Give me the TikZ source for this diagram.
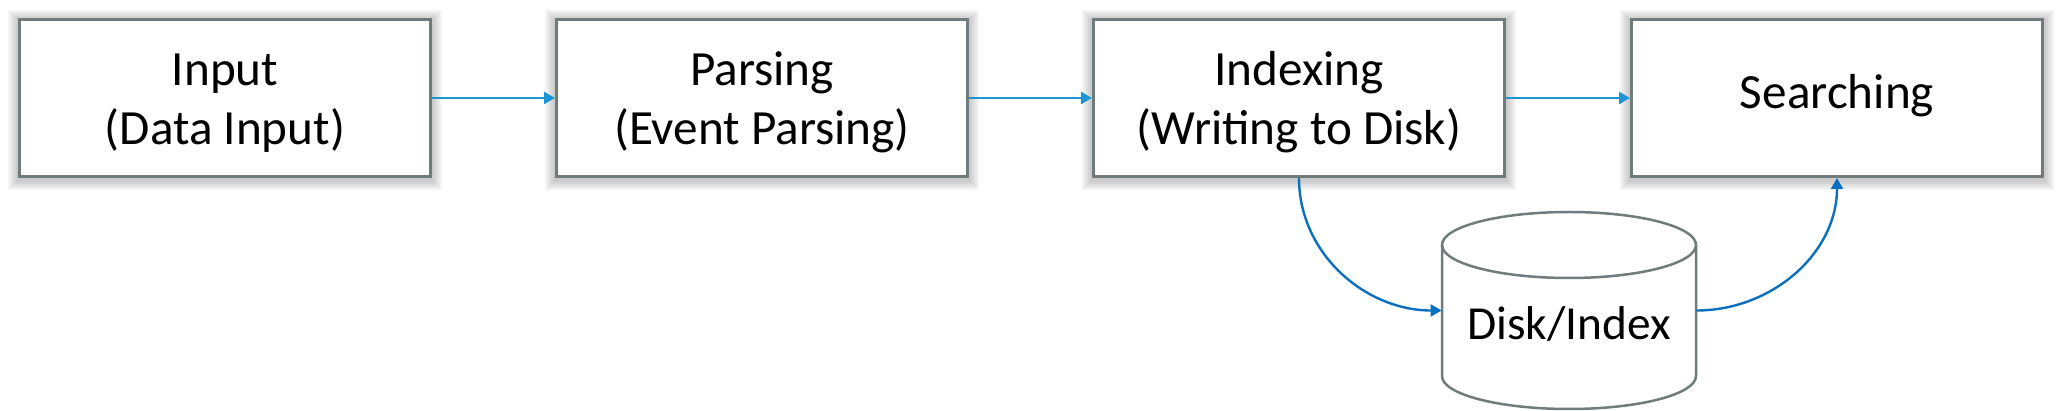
\documentclass[tikz,border=0pt]{standalone}
\usepackage{fontspec}
\setmainfont{Carlito}
\usetikzlibrary{arrows.meta,backgrounds}
\definecolor{boxline}{HTML}{707B7C}
\definecolor{arrowblue}{HTML}{1B95D4}
\definecolor{curveblue}{HTML}{0B6FC0}
\newcommand{\myTopStrut}{\rule{0pt}{24pt}}
\newcommand{\myBotStrut}{\rule[-7pt]{0pt}{7pt}}
\newcommand{\myOneStrut}{\rule[-7pt]{0pt}{25pt}}
\tikzset{
  stagebox/.style={draw=boxline, line width=1.5pt, fill=white,
    minimum width=205.5pt, minimum height=78.5pt, align=center, inner sep=0pt,
    font=\fontsize{24.6}{29.5}\selectfont},
  flow/.style={draw=arrowblue, line width=1.3pt, -{Triangle[length=5.5pt,width=6pt]}},
  curveflow/.style={draw=curveblue, line width=1.2pt, -{Triangle[length=5.5pt,width=6pt]}},
  cylline/.style={draw=boxline, line width=1.25pt},
  glow/.style={fill=black, opacity=0.045}
}
\begin{document}
\begin{tikzpicture}[x=0.5pt, y=-0.5pt]
\useasboundingbox (0,0) rectangle (2063,411);
\node[stagebox] (inp) at (225,98) {\myTopStrut Input\\(Data Input)\myBotStrut};
\node[stagebox] (par) at (762,98) {\myTopStrut Parsing\\(Event Parsing)\myBotStrut};
\node[stagebox] (idx) at (1299,98) {\myTopStrut Indexing\\(Writing to Disk)\myBotStrut};
\node[stagebox] (sea) at (1837,98) {\myOneStrut Searching};
\begin{scope}[on background layer]
\foreach \n in {inp,par,idx,sea}{
  \foreach \s in {2,4,6,8,10}{
    \fill[glow] ([shift={(-\s,-\s+2)}]\n.north west) rectangle ([shift={(\s,\s+2)}]\n.south east);
  }
}
\end{scope}
% cylinder
\node[minimum width=127pt, minimum height=98.5pt, inner sep=0pt] (cyl) at (1569,310.5) {};
\draw[cylline, fill=white] (1442,245) -- (1442,376) arc[start angle=180, end angle=360, x radius=63.5pt, y radius=16.5pt] -- (1696,245);
\draw[cylline] (1569,245) ellipse [x radius=63.5pt, y radius=16.5pt];
\node[anchor=base, inner sep=0pt, font=\fontsize{23.7}{29.5}\selectfont] (disklbl) at (1569,340) {Disk/Index};
% connectors
\draw[flow] (inp) -- (par);
\draw[flow] (par) -- (idx);
\draw[flow] (idx) -- (sea);
\draw[curveflow] (idx.south) to[out=-90, in=180] (cyl.west);
\draw[curveflow] (cyl.east) to[out=0, in=-90] (sea.south);
\end{tikzpicture}
\end{document}
